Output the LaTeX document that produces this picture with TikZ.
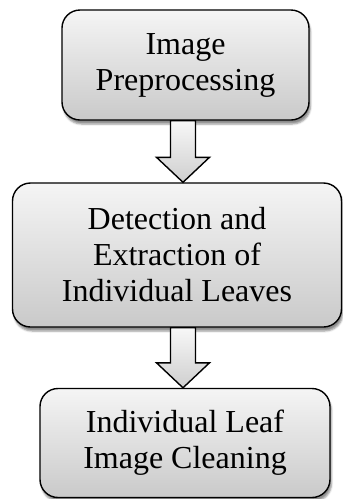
\documentclass[tikz,border=0pt]{standalone}
\usepackage{fontspec}
\setmainfont{Liberation Serif}
\usetikzlibrary{calc,shadows.blur}

\begin{document}
\begin{tikzpicture}[x=1pt,y=-1pt,
    stage/.style={draw=black, line width=1.4pt, rounded corners=18pt,
      top color=gray!8, bottom color=gray!42, align=center, inner sep=0pt,
      font=\fontsize{32}{36}\selectfont,
      blur shadow={shadow xshift=1.5pt, shadow yshift=-4pt, shadow opacity=45}},
    flow/.style={draw=black, line width=1.4pt, top color=gray!6, bottom color=gray!38}]
  \useasboundingbox (0,0) rectangle (343,499);
  \node[stage, minimum width=247pt, minimum height=110pt] (img) at (185.5,65) {Image\\Preprocessing};
  \node[stage, minimum width=329pt, minimum height=144pt] (det) at (177,255) {Detection and\\Extraction of\\Individual Leaves};
  \node[stage, minimum width=290pt, minimum height=109pt] (cln) at (185,443) {Individual Leaf\\Image Cleaning};
  \coordinate (ax) at (183,0);
  % block arrows between the stages
  \draw[flow] ($(img.south -| ax)+(-12.5,0)$) -- ($(det.north -| ax)+(-12.5,-25)$)
    -- ($(det.north -| ax)+(-26.5,-25)$) -- (det.north -| ax)
    -- ($(det.north -| ax)+(26.5,-25)$) -- ($(det.north -| ax)+(12.5,-25)$)
    -- ($(img.south -| ax)+(12.5,0)$) -- cycle;
  \draw[flow] ($(det.south -| ax)+(-12.5,0)$) -- ($(cln.north -| ax)+(-12.5,-25)$)
    -- ($(cln.north -| ax)+(-26.5,-25)$) -- (cln.north -| ax)
    -- ($(cln.north -| ax)+(26.5,-25)$) -- ($(cln.north -| ax)+(12.5,-25)$)
    -- ($(det.south -| ax)+(12.5,0)$) -- cycle;
\end{tikzpicture}
\end{document}
